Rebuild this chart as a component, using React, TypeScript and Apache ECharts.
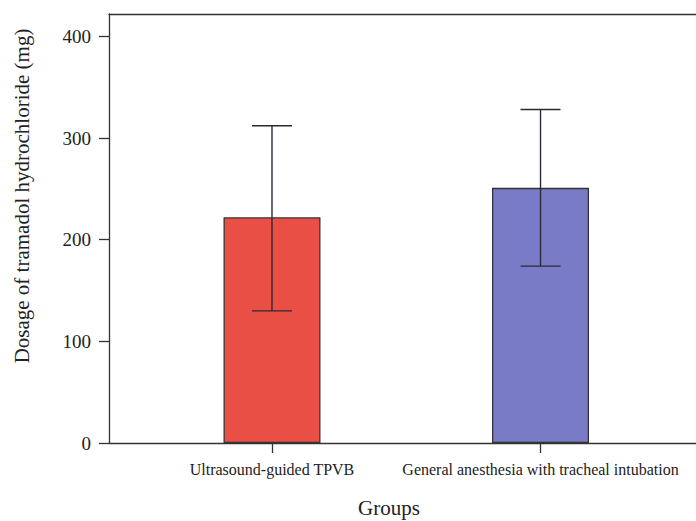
import React, { useEffect, useRef } from "react";
import * as echarts from "echarts";

const categories = ["Ultrasound-guided TPVB", "General anesthesia with tracheal intubation"];
const means = [222, 251];
const upper = [312, 328];
const lower = [130, 174];
const barColors = ["#EA4F45", "#7A7BC7"];
const yTicks = [0, 100, 200, 300, 400];
const yTitle = "Dosage of tramadol hydrochloride (mg)";
const xTitle = "Groups";

const FONT = "'Liberation Serif', 'DejaVu Serif', serif";
const AXIS = "#333333";

export default function App() {
  const ref = useRef<HTMLDivElement>(null);
  useEffect(() => {
    if (!ref.current) return;
    const chart = echarts.init(ref.current, undefined, { renderer: "svg" });
    const positions = categories.map((_, i) => i + 1);
    chart.setOption({
      animation: false,
      backgroundColor: "#ffffff",
      grid: { left: 109, right: 0, top: 14, bottom: 78 },
      xAxis: [
        {
          type: "value",
          min: 0.393,
          max: 2.579,
          axisLine: { show: true, lineStyle: { color: AXIS, width: 1.3 } },
          axisTick: { show: true, length: 10, customValues: positions, lineStyle: { color: AXIS, width: 1.3 } },
          axisLabel: {
            customValues: positions,
            formatter: (v: number) => categories[Math.round(v) - 1] ?? "",
            fontFamily: FONT,
            fontSize: 16,
            color: "#222",
            margin: 18,
          },
          splitLine: { show: false },
        },
        {
          type: "value",
          position: "top",
          min: 0.393,
          max: 2.579,
          axisLine: { show: true, lineStyle: { color: AXIS, width: 1.3 } },
          axisTick: { show: false },
          axisLabel: { show: false },
          splitLine: { show: false },
        },
      ],
      yAxis: {
        type: "value",
        min: 0,
        max: 422,
        axisLine: { show: true, lineStyle: { color: AXIS, width: 1.3 } },
        axisTick: { show: true, length: 10, customValues: yTicks, lineStyle: { color: AXIS, width: 1.3 } },
        axisLabel: { customValues: yTicks, fontFamily: FONT, fontSize: 19, color: "#222", margin: 18 },
        splitLine: { show: false },
      },
      graphic: [
        {
          type: "text",
          x: 22,
          y: 196,
          rotation: Math.PI / 2,
          style: {
            text: yTitle,
            font: `21px ${FONT}`,
            fill: "#222",
            align: "center",
            verticalAlign: "middle",
          },
        },
        {
          type: "text",
          x: 389,
          y: 508,
          style: {
            text: xTitle,
            font: `21px ${FONT}`,
            fill: "#222",
            align: "center",
            verticalAlign: "middle",
          },
        },
      ],
      series: [
        {
          type: "bar",
          xAxisIndex: 0,
          barWidth: 97,
          data: means.map((m, i) => ({
            value: [positions[i], m],
            itemStyle: { color: barColors[i], borderColor: AXIS, borderWidth: 1.3 },
          })),
        },
        {
          type: "custom",
          xAxisIndex: 0,
          z: 5,
          encode: { x: 0, y: [1, 2] },
          data: positions.map((p, i) => [p, upper[i], lower[i]]),
          renderItem: (params: any, api: any) => {
            const x = api.value(0);
            const hi = api.coord([x, api.value(1)]);
            const lo = api.coord([x, api.value(2)]);
            const half = 20;
            const style = { stroke: "#2a2a33", lineWidth: 1.4 };
            return {
              type: "group",
              children: [
                { type: "line", shape: { x1: hi[0], y1: hi[1], x2: lo[0], y2: lo[1] }, style },
                { type: "line", shape: { x1: hi[0] - half, y1: hi[1], x2: hi[0] + half, y2: hi[1] }, style },
                { type: "line", shape: { x1: lo[0] - half, y1: lo[1], x2: lo[0] + half, y2: lo[1] }, style },
              ],
            };
          },
        },
      ],
    });
    return () => chart.dispose();
  }, []);
  return (
    <div
      ref={ref}
      style={{ position: "fixed", left: 0, top: 0, width: 696, height: 521, background: "#fff" }}
    />
  );
}
